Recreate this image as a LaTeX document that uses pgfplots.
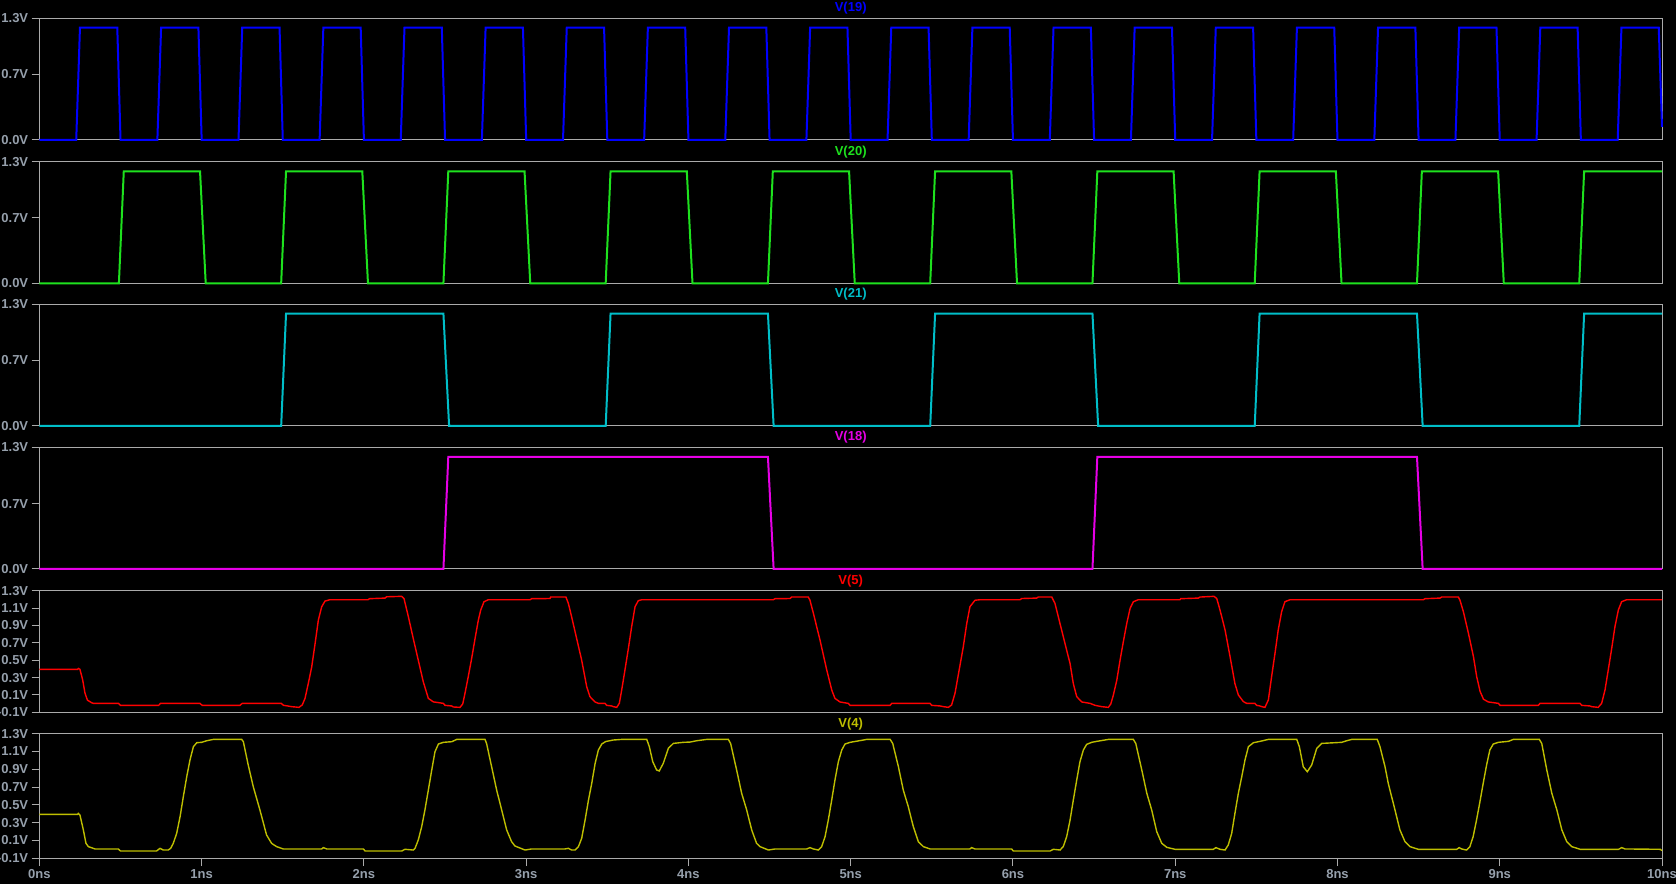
\documentclass[border=0pt]{standalone}
\usepackage{pgfplots}
\pgfplotsset{compat=1.18}
\usepackage{fontspec}
\setmainfont{Liberation Sans}
\definecolor{framegray}{RGB}{170,170,170}
\definecolor{labgray}{RGB}{150,160,172}
\definecolor{cA}{RGB}{0,0,255}
\definecolor{cB}{RGB}{30,225,30}
\definecolor{cC}{RGB}{0,190,200}
\definecolor{cD}{RGB}{230,0,230}
\definecolor{cE}{RGB}{255,0,0}
\definecolor{cF}{RGB}{190,190,0}
\newcommand\lab{\fontsize{13}{13}\selectfont\bfseries}
\pgfplotsset{
  lt/.style={scale only axis, width=1622.6pt, xmin=0, xmax=10,
    axis line style={draw=framegray, line width=1pt},
    tick style={draw=framegray, line width=1pt},
    tick align=outside, ytick pos=left, xtick pos=bottom,
    major tick length=7.7pt, clip=false,
    ticklabel style={font=\lab, text=labgray},
    yticklabel style={anchor=east},
    xtick=\empty},
  dig/.style={ymin=0, ymax=1.3, ytick={0,0.7,1.3}, yticklabels={0.0V,0.7V,1.3V}},
  ana/.style={ymin=-0.1, ymax=1.3, ytick={-0.1,0.1,0.3,0.5,0.7,0.9,1.1,1.3},
    yticklabels={-0.1V,0.1V,0.3V,0.5V,0.7V,0.9V,1.1V,1.3V}},
}
\newcommand\ttl[2]{\node[font=\lab, text=#2, anchor=center] at ([yshift=10pt]rel axis cs:0.5,1) {#1};}
\begin{document}
\begin{tikzpicture}[x=1pt,y=1pt]
\fill[black] (0,0) rectangle (1676,884);
% V(19)
\begin{axis}[lt, dig, at={(39.4pt,865.7pt)}, anchor=north west, height=121.7pt]
\addplot[cA, line width=2pt] coordinates {(0,0)
(0.227,0)(0.25,1.2)(0.48,1.2)(0.5,0)(0.727,0)(0.75,1.2)(0.98,1.2)(1.0,0)
(1.227,0)(1.25,1.2)(1.48,1.2)(1.5,0)(1.727,0)(1.75,1.2)(1.98,1.2)(2.0,0)
(2.227,0)(2.25,1.2)(2.48,1.2)(2.5,0)(2.727,0)(2.75,1.2)(2.98,1.2)(3.0,0)
(3.227,0)(3.25,1.2)(3.48,1.2)(3.5,0)(3.727,0)(3.75,1.2)(3.98,1.2)(4.0,0)
(4.227,0)(4.25,1.2)(4.48,1.2)(4.5,0)(4.727,0)(4.75,1.2)(4.98,1.2)(5.0,0)
(5.227,0)(5.25,1.2)(5.48,1.2)(5.5,0)(5.727,0)(5.75,1.2)(5.98,1.2)(6.0,0)
(6.227,0)(6.25,1.2)(6.48,1.2)(6.5,0)(6.727,0)(6.75,1.2)(6.98,1.2)(7.0,0)
(7.227,0)(7.25,1.2)(7.48,1.2)(7.5,0)(7.727,0)(7.75,1.2)(7.98,1.2)(8.0,0)
(8.227,0)(8.25,1.2)(8.48,1.2)(8.5,0)(8.727,0)(8.75,1.2)(8.98,1.2)(9.0,0)
(9.227,0)(9.25,1.2)(9.48,1.2)(9.5,0)(9.727,0)(9.75,1.2)(9.98,1.2)(10,0.14)};
\ttl{V(19)}{cA}
\end{axis}
% V(20)
\begin{axis}[lt, dig, at={(39.4pt,722.0pt)}, anchor=north west, height=121.3pt]
\addplot[cB, line width=2pt] coordinates {(0,0)
(0.49,0)(0.52,1.2)(0.99,1.2)(1.025,0)(1.49,0)(1.52,1.2)(1.99,1.2)(2.025,0)
(2.49,0)(2.52,1.2)(2.99,1.2)(3.025,0)(3.49,0)(3.52,1.2)(3.99,1.2)(4.025,0)
(4.49,0)(4.52,1.2)(4.99,1.2)(5.025,0)(5.49,0)(5.52,1.2)(5.99,1.2)(6.025,0)
(6.49,0)(6.52,1.2)(6.99,1.2)(7.025,0)(7.49,0)(7.52,1.2)(7.99,1.2)(8.025,0)
(8.49,0)(8.52,1.2)(8.99,1.2)(9.025,0)(9.49,0)(9.52,1.2)(10,1.2)};
\ttl{V(20)}{cB}
\end{axis}
% V(21)
\begin{axis}[lt, dig, at={(39.4pt,579.7pt)}, anchor=north west, height=121.7pt]
\addplot[cC, line width=2pt] coordinates {(0,0)
(1.49,0)(1.52,1.2)(2.49,1.2)(2.525,0)(3.49,0)(3.52,1.2)(4.49,1.2)(4.525,0)
(5.49,0)(5.52,1.2)(6.49,1.2)(6.525,0)(7.49,0)(7.52,1.2)(8.49,1.2)(8.525,0)
(9.49,0)(9.52,1.2)(10,1.2)};
\ttl{V(21)}{cC}
\end{axis}
% V(18)
\begin{axis}[lt, dig, at={(39.4pt,436.5pt)}, anchor=north west, height=121.5pt]
\addplot[cD, line width=2pt] coordinates {(0,0)
(2.49,0)(2.52,1.2)(4.49,1.2)(4.525,0)(6.49,0)(6.52,1.2)(8.49,1.2)(8.525,0)(10,0)};
\ttl{V(18)}{cD}
\end{axis}
% V(5)
\begin{axis}[lt, ana, at={(39.4pt,293.3pt)}, anchor=north west, height=121.6pt]
\addplot[cE, line width=1.4pt] coordinates {
(0,0.395)(0.235,0.395)(0.24,0.405)(0.25,0.395)(0.267,0.27)(0.281,0.12)(0.296,0.04)(0.322,0.01)(0.333,0.003)
(0.487,0.003)(0.5,-0.02)(0.735,-0.02)(0.747,0.003)(0.99,0.003)(1.003,-0.02)(1.236,-0.02)(1.25,0.003)
(1.49,0.003)(1.505,-0.02)(1.53,-0.027)(1.554,-0.035)(1.6,-0.043)(1.62,-0.015)(1.637,0.06)(1.657,0.23)
(1.678,0.42)(1.699,0.69)(1.719,0.96)(1.74,1.116)(1.76,1.18)(1.79,1.196)(2.025,1.196)(2.035,1.208)
(2.13,1.215)(2.14,1.23)(2.232,1.235)(2.247,1.21)(2.274,1.0)(2.304,0.75)(2.335,0.5)(2.366,0.25)
(2.397,0.06)(2.428,0.02)(2.489,0.003)(2.5,-0.02)(2.541,-0.027)(2.551,-0.039)(2.592,-0.043)(2.609,-0.004)
(2.623,0.12)(2.643,0.31)(2.664,0.52)(2.685,0.75)(2.705,0.96)(2.72,1.078)(2.74,1.173)(2.767,1.196)
(3.024,1.196)(3.034,1.208)(3.147,1.21)(3.151,1.227)(3.245,1.227)(3.26,1.154)(3.28,1.0)(3.311,0.75)
(3.342,0.5)(3.373,0.195)(3.393,0.08)(3.424,0.019)(3.445,0.003)(3.486,0.003)(3.496,-0.02)(3.527,-0.027)
(3.537,-0.035)(3.558,-0.043)(3.574,0.003)(3.589,0.16)(3.609,0.39)(3.63,0.636)(3.65,0.885)(3.671,1.116)
(3.691,1.185)(3.712,1.196)(4.523,1.196)(4.534,1.208)(4.626,1.21)(4.636,1.227)(4.739,1.227)(4.749,1.19)
(4.77,1.04)(4.811,0.73)(4.852,0.39)(4.883,0.157)(4.903,0.06)(4.934,0.019)(4.985,0.003)(4.996,-0.02)
(5.243,-0.02)(5.253,0.003)(5.489,0.003)(5.499,-0.02)(5.551,-0.027)(5.571,-0.035)(5.602,-0.043)(5.622,-0.015)
(5.643,0.12)(5.663,0.33)(5.694,0.655)(5.715,0.92)(5.735,1.116)(5.766,1.19)(5.797,1.196)(6.043,1.196)
(6.054,1.21)(6.146,1.215)(6.156,1.227)(6.239,1.227)(6.259,1.154)(6.29,0.92)(6.321,0.69)(6.352,0.46)
(6.372,0.23)(6.393,0.08)(6.424,0.019)(6.475,0.003)(6.506,-0.02)(6.547,-0.035)(6.588,-0.043)(6.603,-0.004)
(6.619,0.1)(6.64,0.27)(6.66,0.5)(6.68,0.71)(6.701,0.92)(6.722,1.097)(6.742,1.173)(6.772,1.196)
(7.029,1.196)(7.034,1.208)(7.142,1.215)(7.153,1.227)(7.239,1.235)(7.256,1.21)(7.276,1.078)(7.307,0.85)
(7.338,0.54)(7.368,0.23)(7.389,0.1)(7.42,0.023)(7.44,0.003)(7.491,0.003)(7.502,-0.02)(7.522,-0.027)
(7.533,-0.035)(7.553,-0.043)(7.574,0.042)(7.594,0.31)(7.615,0.58)(7.635,0.85)(7.656,1.06)(7.676,1.173)
(7.707,1.196)(8.529,1.196)(8.54,1.208)(8.632,1.215)(8.642,1.227)(8.745,1.227)(8.755,1.19)(8.776,1.058)
(8.807,0.81)(8.838,0.54)(8.858,0.31)(8.879,0.14)(8.9,0.05)(8.93,0.019)(8.992,0.003)(9.002,-0.02)
(9.238,-0.02)(9.248,0.003)(9.495,0.003)(9.505,-0.02)(9.556,-0.027)(9.566,-0.035)(9.607,-0.043)(9.628,0.003)
(9.649,0.16)(9.669,0.39)(9.69,0.636)(9.71,0.885)(9.731,1.078)(9.751,1.173)(9.782,1.196)(10,1.196)};
\ttl{V(5)}{cE}
\end{axis}
% V(4)
\begin{axis}[lt, ana, at={(39.4pt,150.3pt)}, anchor=north west, height=124.6pt,
  xtick={0,1,2,3,4,5,6,7,8,9,10},
  xticklabels={0ns,1ns,2ns,3ns,4ns,5ns,6ns,7ns,8ns,9ns,10ns}]
\addplot[cF, line width=1.4pt] coordinates {
(0,0.394)(0.235,0.394)(0.24,0.405)(0.25,0.386)(0.271,0.218)(0.287,0.068)(0.302,0.031)(0.343,0.005)
(0.486,0.005)(0.5,-0.018)(0.722,-0.018)(0.743,0.012)(0.764,-0.007)(0.794,-0.007)(0.809,0.012)(0.825,0.068)
(0.846,0.18)(0.867,0.368)(0.887,0.592)(0.908,0.817)(0.928,1.004)(0.949,1.154)(0.97,1.199)(1.0,1.203)
(1.031,1.221)(1.072,1.236)(1.247,1.236)(1.257,1.21)(1.287,0.948)(1.318,0.705)(1.359,0.443)(1.4,0.162)
(1.431,0.068)(1.462,0.031)(1.503,0.005)(1.74,0.005)(1.75,0.02)(1.771,0.005)(1.997,0.005)(2.007,-0.018)
(2.233,-0.018)(2.253,0.001)(2.304,-0.007)(2.315,0.012)(2.335,0.106)(2.356,0.255)(2.376,0.443)(2.397,0.667)
(2.418,0.892)(2.438,1.098)(2.459,1.184)(2.489,1.203)(2.541,1.21)(2.572,1.236)(2.746,1.236)(2.756,1.19)
(2.787,0.929)(2.818,0.667)(2.849,0.443)(2.88,0.218)(2.91,0.087)(2.931,0.038)(2.993,-0.007)(3.034,0.005)
(3.239,0.005)(3.26,0.012)(3.28,-0.007)(3.301,-0.007)(3.322,0.031)(3.342,0.124)(3.363,0.33)(3.384,0.555)
(3.404,0.742)(3.425,0.967)(3.445,1.117)(3.466,1.184)(3.49,1.212)(3.537,1.229)(3.589,1.236)(3.743,1.236)
(3.759,1.154)(3.78,0.986)(3.804,0.892)(3.82,0.881)(3.845,0.967)(3.876,1.135)(3.907,1.191)(3.968,1.203)
(4.01,1.206)(4.051,1.221)(4.113,1.236)(4.246,1.236)(4.26,1.19)(4.297,0.892)(4.328,0.63)(4.359,0.443)
(4.39,0.218)(4.42,0.068)(4.441,0.031)(4.493,-0.007)(4.534,0.005)(4.729,0.005)(4.749,0.02)(4.77,0.005)
(4.8,-0.007)(4.821,0.031)(4.842,0.143)(4.862,0.33)(4.883,0.555)(4.903,0.78)(4.924,0.986)(4.945,1.117)
(4.965,1.184)(4.996,1.203)(5.078,1.229)(5.099,1.236)(5.243,1.236)(5.259,1.19)(5.294,0.929)(5.324,0.667)
(5.355,0.48)(5.386,0.255)(5.417,0.087)(5.448,0.031)(5.489,0.005)(5.735,0.005)(5.745,0.02)(5.766,0.005)
(5.992,0.005)(6.002,-0.018)(6.229,-0.018)(6.249,0.001)(6.29,-0.007)(6.31,0.031)(6.331,0.143)(6.352,0.33)
(6.372,0.555)(6.393,0.78)(6.413,0.986)(6.434,1.117)(6.454,1.18)(6.485,1.203)(6.516,1.214)(6.588,1.236)
(6.742,1.236)(6.757,1.19)(6.794,0.892)(6.825,0.63)(6.855,0.443)(6.886,0.2)(6.917,0.068)(6.948,0.023)
(6.999,0.001)(7.235,0.001)(7.251,0.02)(7.276,0.001)(7.307,-0.007)(7.327,0.05)(7.348,0.18)(7.368,0.405)
(7.389,0.63)(7.41,0.817)(7.43,1.004)(7.451,1.154)(7.482,1.199)(7.523,1.214)(7.574,1.236)(7.749,1.236)
(7.765,1.154)(7.789,0.929)(7.814,0.873)(7.841,0.948)(7.872,1.135)(7.903,1.191)(8.026,1.203)(8.057,1.221)
(8.088,1.236)(8.245,1.236)(8.262,1.154)(8.293,0.929)(8.313,0.742)(8.344,0.518)(8.385,0.218)(8.416,0.087)
(8.447,0.031)(8.498,0.001)(8.735,0.001)(8.75,0.02)(8.765,0.005)(8.795,-0.007)(8.816,0.031)(8.836,0.143)
(8.857,0.33)(8.878,0.536)(8.898,0.742)(8.919,0.948)(8.939,1.117)(8.96,1.184)(8.991,1.203)(9.053,1.214)
(9.084,1.236)(9.244,1.236)(9.259,1.19)(9.29,0.892)(9.321,0.63)(9.352,0.443)(9.383,0.218)(9.413,0.087)
(9.444,0.031)(9.496,0.001)(9.732,0.001)(9.752,0.02)(9.772,0.005)(9.99,0.001)(10,-0.014)};
\ttl{V(4)}{cF}
\end{axis}
\pgfresetboundingbox
\useasboundingbox (0,0) rectangle (1676,884);
\end{tikzpicture}
\end{document}
